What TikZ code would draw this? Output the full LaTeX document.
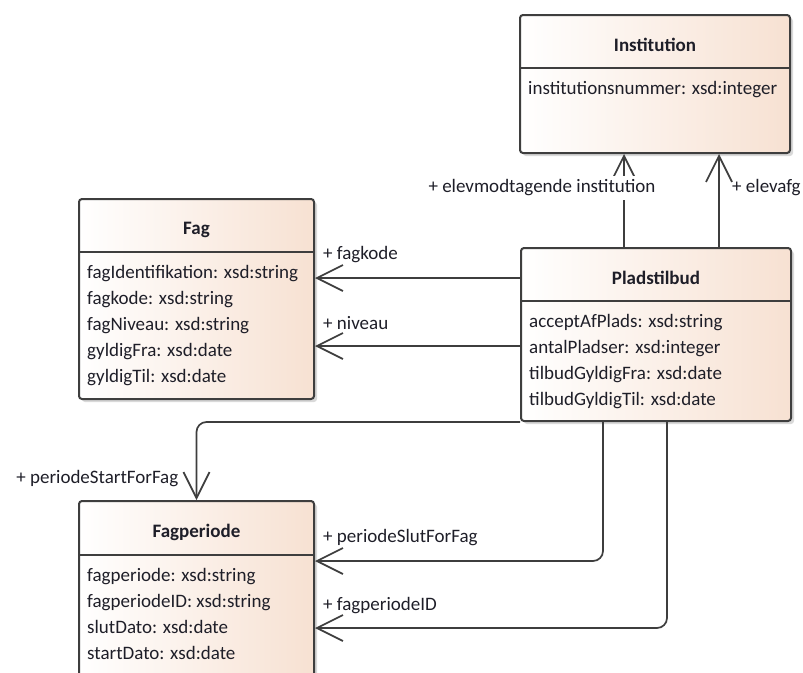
\documentclass[tikz,border=0pt]{standalone}
\usepackage{fontspec}
\setmainfont{Carlito}
\usepackage{tikz}
\usetikzlibrary{positioning}
\usetikzlibrary{calc,arrows.meta,shadows}

\definecolor{umlpeach}{RGB}{247,225,210}
\definecolor{umledge}{RGB}{62,62,62}
\definecolor{umltext}{RGB}{30,30,40}

\tikzset{
	classbox/.style={draw=umledge, line width=2pt, rounded corners=3pt,
		left color=white, right color=umlpeach,
		drop shadow={shadow xshift=3pt, shadow yshift=-3pt, fill=black!25, opacity=0.6},
		anchor=north west, inner sep=0pt},
	classtitle/.style={font=\fontsize{19}{23}\selectfont\bfseries, text=umltext, inner sep=0pt},
	attrlist/.style={font=\fontsize{19}{26}\selectfont, text=umltext, align=left, inner sep=0pt, anchor=north west},
	divider/.style={draw=umledge, line width=2pt},
	assoc/.style={draw=umledge, line width=1.7pt, rounded corners=10pt,
		-{Straight Barb[length=26pt, width=26pt, line width=1.7pt]}},
	rolelabel/.style={font=\fontsize{19}{23}\selectfont, text=umltext, inner sep=2pt},
}

\begin{document}
\begin{tikzpicture}[x=1pt, y=-1pt]
		
		% ---------------------
		% Proper size --- Bounding box
		\useasboundingbox (0,0) rectangle (803,672);
		\clip (0,0) rectangle (803,672);
		
		% ---------------------
		% Classes
		\node[classbox, minimum width=270pt, minimum height=138pt] (Institution) at (519,14) {};
		\node[classbox, minimum width=235pt, minimum height=200pt] (Fag) at (78,198) {};
		\node[classbox, minimum width=270pt, minimum height=173pt] (Pladstilbud) at (520,247) {};
		\node[classbox, minimum width=235pt, minimum height=200pt] (Fagperiode) at (78,500) {};
		
		\node[classtitle, below=24pt of Institution.north] (InstitutionTitle) {Institution};
		\node[classtitle, below=24pt of Fag.north] (FagTitle) {Fag};
		\node[classtitle, below=24pt of Pladstilbud.north] (PladstilbudTitle) {Pladstilbud};
		\node[classtitle, below=24pt of Fagperiode.north] (FagperiodeTitle) {Fagperiode};
		
		\path (Institution.north west) +(0,54) coordinate (InstitutionSplit);
		\path (Fag.north west) +(0,54) coordinate (FagSplit);
		\path (Pladstilbud.north west) +(0,54) coordinate (PladstilbudSplit);
		\path (Fagperiode.north west) +(0,55) coordinate (FagperiodeSplit);
		
		\draw[divider] (InstitutionSplit) -- (InstitutionSplit -| Institution.east);
		\draw[divider] (FagSplit) -- (FagSplit -| Fag.east);
		\draw[divider] (PladstilbudSplit) -- (PladstilbudSplit -| Pladstilbud.east);
		\draw[divider] (FagperiodeSplit) -- (FagperiodeSplit -| Fagperiode.east);
		
		\path (InstitutionSplit) +(9,13) node[attrlist] (InstitutionAttr) {institutionsnummer: xsd:integer};
		\path (FagSplit) +(9,13) node[attrlist] (FagAttr) {fagIdentifikation: xsd:string\\
			fagkode: xsd:string\\
			fagNiveau: xsd:string\\
			gyldigFra: xsd:date\\
			gyldigTil: xsd:date};
		\path (PladstilbudSplit) +(9,13) node[attrlist] (PladstilbudAttr) {acceptAfPlads: xsd:string\\
			antalPladser: xsd:integer\\
			tilbudGyldigFra: xsd:date\\
			tilbudGyldigTil: xsd:date};
		\path (FagperiodeSplit) +(9,13) node[attrlist] (FagperiodeAttr) {fagperiode: xsd:string\\
			fagperiodeID: xsd:string\\
			slutDato: xsd:date\\
			startDato: xsd:date};
		
		% ---------------------
		% Associations
		\path (Pladstilbud.north west) +(104,0) coordinate (ElevmodStart);
		\path (Pladstilbud.north west) +(199,0) coordinate (ElevafgStart);
		\path (Pladstilbud.north west) +(0,31) coordinate (FagkodeStart);
		\path (Pladstilbud.north west) +(0,99) coordinate (NiveauStart);
		\path (Pladstilbud.south west) +(83,0) coordinate (SlutStart);
		\path (Pladstilbud.south west) +(147,0) coordinate (IDStart);
		
		\path (FagkodeStart -| Fag.east) coordinate (FagkodeEnd);
		\path (NiveauStart -| Fag.east) coordinate (NiveauEnd);
		\path (Fagperiode.north east) +(0,61) coordinate (SlutEnd);
		\path (Fagperiode.north east) +(0,128) coordinate (IDEnd);
		
		\draw[assoc] (ElevmodStart) -- (ElevmodStart |- Institution.south);
		\draw[assoc] (ElevafgStart) -- (ElevafgStart |- Institution.south);
		\draw[assoc] (FagkodeStart) -- (FagkodeEnd);
		\draw[assoc] (NiveauStart) -- (NiveauEnd);
		\draw[assoc] (Pladstilbud.south west) -| (Fagperiode.north);
		\draw[assoc] (SlutStart) |- (SlutEnd);
		\draw[assoc] (IDStart) |- (IDEnd);
		
		% role names
		\path (ElevmodStart) +(-82,-59) node[rolelabel, fill=white, inner ysep=4pt] (ElevmodLabel) {+ elevmodtagende institution};
		\path (ElevafgStart) +(11,-59) node[rolelabel, anchor=west] (ElevafgLabel) {+ elevafg};
		\path (FagkodeEnd) +(6,-23) node[rolelabel, anchor=west] (FagkodeLabel) {+ fagkode};
		\path (NiveauEnd) +(6,-23) node[rolelabel, anchor=west] (NiveauLabel) {+ niveau};
		\path (Fagperiode.north) +(-16,-21) node[rolelabel, anchor=east] (StartLabel) {+ periodeStartForFag};
		\path (SlutEnd) +(6,-23) node[rolelabel, anchor=west] (SlutLabel) {+ periodeSlutForFag};
		\path (IDEnd) +(6,-22) node[rolelabel, anchor=west] (IDLabel) {+ fagperiodeID};
		
\end{tikzpicture}
\end{document}
